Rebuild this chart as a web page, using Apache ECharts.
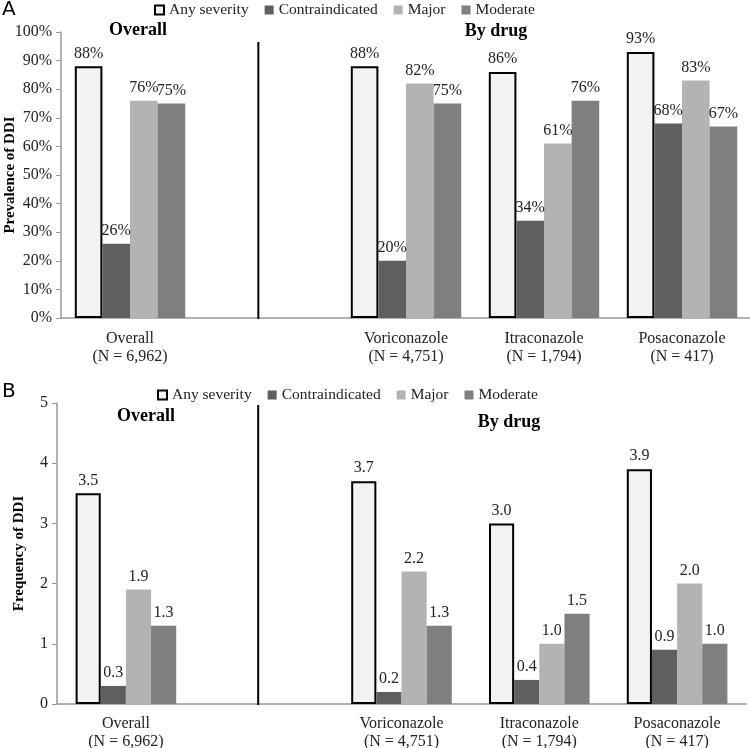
<!DOCTYPE html>
<html><head><meta charset="utf-8">
<script src="https://cdn.jsdelivr.net/npm/echarts@6/dist/echarts.min.js"></script>
<style>html,body{margin:0;padding:0;background:#fff}#c{width:750px;height:748px}</style>
</head><body><div id="c"></div>
<script>
const categories = ['Overall\n(N = 6,962)', '', 'Voriconazole\n(N = 4,751)', 'Itraconazole\n(N = 1,794)', 'Posaconazole\n(N = 417)'];
const seriesNames = ['Any severity', 'Contraindicated', 'Major', 'Moderate'];
// Panel A: prevalence (%)
const prevAny    = [88, '-', 88, 86, 93];
const prevContra = [26, '-', 20, 34, 68];
const prevMajor  = [76, '-', 82, 61, 83];
const prevMod    = [75, '-', 75, 76, 67];
// Panel B: frequency
const freqAny    = [3.5, '-', 3.7, 3.0, 3.9];
const freqContra = [0.3, '-', 0.2, 0.4, 0.9];
const freqMajor  = [1.9, '-', 2.2, 1.0, 2.0];
const freqMod    = [1.3, '-', 1.3, 1.5, 1.0];
const yTicksA = [0, 100, 10];
const yTicksB = [0, 5, 1];
// divider position between Overall and By drug (in category units)
const dividerA = [[1.43, -0.007], [1.43, 0.965]];
const dividerB = [[1.46, -0.01], [1.46, 0.993]];

const FONT = '"Liberation Serif", "Times New Roman", serif';
const colors = ['#f2f2f2', '#5f5f5f', '#b3b3b3', '#7f7f7f'];
const chart = echarts.init(document.getElementById('c'));

function barSeries(name, idx, data, g, fmt, gapPct) {
  return {
    type: 'bar', name: name, xAxisIndex: g, yAxisIndex: g, data: data,
    barGap: '0%', barCategoryGap: gapPct,
    itemStyle: idx === 0 ? {color: colors[0], borderColor: '#000', borderWidth: 2} : {color: colors[idx]},
    label: {show: true, position: 'top', distance: 5, fontFamily: FONT, fontSize: 16, color: '#222', formatter: fmt},
    emphasis: {disabled: true}, animation: false
  };
}
const fmtA = p => p.value + '%';
const fmtB = p => Number(p.value).toFixed(1);

const catAxis = (g, m) => ({
  type: 'category', gridIndex: g, data: categories,
  axisLine: {lineStyle: {color: '#999', width: 1.5}},
  axisTick: {show: false},
  axisLabel: {fontFamily: FONT, fontSize: 16, color: '#222', lineHeight: 18, margin: m, interval: 0, hideOverlap: false}
});
const valY = (g, t, fmt, name, gap) => ({
  type: 'value', gridIndex: g, min: t[0], max: t[1], interval: t[2],
  splitLine: {show: false},
  axisLine: {show: true, lineStyle: {color: '#999', width: 1.5}},
  axisTick: {show: true, length: 5, lineStyle: {color: '#999'}},
  axisLabel: {fontFamily: FONT, fontSize: 16, color: '#222', margin: 9, formatter: fmt},
  name: name, nameLocation: 'middle', nameRotate: 90, nameGap: gap, nameMoveOverlap: false,
  nameTextStyle: {fontFamily: FONT, fontSize: 15, fontWeight: 'bold', color: '#000'}
});
const hidX = (g) => ({type: 'value', gridIndex: g, min: 0, max: 5, show: false});
const hidY = (g) => ({type: 'value', gridIndex: g, min: 0, max: 1, show: false});

const legendCommon = {
  data: seriesNames, icon: 'rect', itemWidth: 9, itemHeight: 9, itemGap: 16,
  textStyle: {fontFamily: FONT, fontSize: 15.5, color: '#222'}, selectedMode: false
};

chart.setOption({
  animation: false,
  grid: [
    {left: 61, top: 32, width: 690, height: 286, outerBoundsMode: 'none', containLabel: false},
    {left: 57, top: 403, width: 689, height: 301, outerBoundsMode: 'none', containLabel: false}
  ],
  legend: [
    Object.assign({left: 149, top: -3}, legendCommon),
    Object.assign({left: 152, top: 382}, legendCommon)
  ],
  xAxis: [catAxis(0, 12), catAxis(1, 11), hidX(0), hidX(1)],
  yAxis: [
    valY(0, yTicksA, '{value}%', 'Prevalence of DDI', 43),
    valY(1, yTicksB, '{value}', 'Frequency of DDI', 30),
    hidY(0), hidY(1)
  ],
  graphic: [
    {type: 'text', left: 2, top: 0, style: {text: 'A', font: '20px "DejaVu Sans"', fill: '#000'}},
    {type: 'text', left: 2, top: 382, style: {text: 'B', font: '20px "DejaVu Sans"', fill: '#000'}},
    {type: 'text', x: 138, y: 30, style: {text: 'Overall', font: 'bold 18px "Liberation Serif"', fill: '#000', align: 'center', verticalAlign: 'middle'}},
    {type: 'text', x: 496, y: 31, style: {text: 'By drug', font: 'bold 18px "Liberation Serif"', fill: '#000', align: 'center', verticalAlign: 'middle'}},
    {type: 'text', x: 146, y: 416, style: {text: 'Overall', font: 'bold 18px "Liberation Serif"', fill: '#000', align: 'center', verticalAlign: 'middle'}},
    {type: 'text', x: 509, y: 422, style: {text: 'By drug', font: 'bold 18px "Liberation Serif"', fill: '#000', align: 'center', verticalAlign: 'middle'}}
  ],
  series: [
    barSeries(seriesNames[0], 0, prevAny, 0, fmtA, '20%'),
    barSeries(seriesNames[1], 1, prevContra, 0, fmtA, '20%'),
    barSeries(seriesNames[2], 2, prevMajor, 0, fmtA, '20%'),
    barSeries(seriesNames[3], 3, prevMod, 0, fmtA, '20%'),
    barSeries(seriesNames[0], 0, freqAny, 1, fmtB, '27%'),
    barSeries(seriesNames[1], 1, freqContra, 1, fmtB, '27%'),
    barSeries(seriesNames[2], 2, freqMajor, 1, fmtB, '27%'),
    barSeries(seriesNames[3], 3, freqMod, 1, fmtB, '27%'),
    {type: 'line', xAxisIndex: 2, yAxisIndex: 2, data: dividerA, symbol: 'none', silent: true,
     lineStyle: {color: '#000', width: 2}, z: 5},
    {type: 'line', xAxisIndex: 3, yAxisIndex: 3, data: dividerB, symbol: 'none', silent: true,
     lineStyle: {color: '#000', width: 2}, z: 5}
  ]
});
</script></body></html>
